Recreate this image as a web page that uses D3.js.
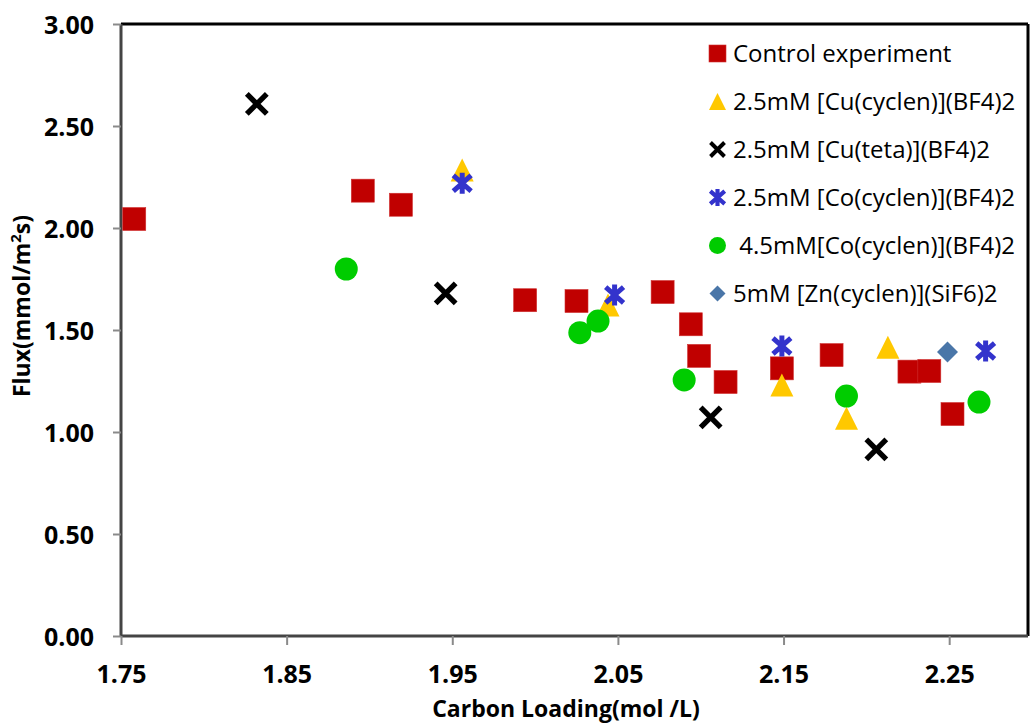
<!DOCTYPE html>
<html>
<head>
<meta charset="utf-8">
<script src="https://cdn.jsdelivr.net/npm/d3@7"></script>
<style>
  html, body { margin: 0; padding: 0; background: #fff; }
  svg { display: block; font-family: "Open Sans", "DejaVu Sans", sans-serif; }
  .legend text { white-space: pre; }
</style>
</head>
<body>
<svg id="chart" width="1031" height="723"></svg>
<script>
// series
const controlX = [1.758, 1.896, 1.919, 1.994, 2.025, 2.077, 2.094, 2.099, 2.115, 2.149, 2.179, 2.226, 2.238, 2.252]
const controlY = [2.044, 2.183, 2.114, 1.646, 1.642, 1.686, 1.528, 1.373, 1.245, 1.312, 1.377, 1.296, 1.299, 1.088]

const cuCyclenX = [1.956, 2.044, 2.149, 2.188, 2.213]
const cuCyclenY = [2.284, 1.623, 1.230, 1.067, 1.415]

const cuTetaX = [1.832, 1.946, 2.106, 2.206]
const cuTetaY = [2.608, 1.680, 1.072, 0.915]

const coCyclen25X = [1.956, 2.048, 2.149, 2.272]
const coCyclen25Y = [2.219, 1.672, 1.422, 1.397]

const coCyclen45X = [1.886, 2.027, 2.038, 2.090, 2.188, 2.268]
const coCyclen45Y = [1.799, 1.487, 1.544, 1.255, 1.176, 1.147]

const znCyclenX = [2.249]
const znCyclenY = [1.392]

const seriesNames = [
    "Control experiment",
    "2.5mM [Cu(cyclen)](BF4)2",
    "2.5mM [Cu(teta)](BF4)2",
    "2.5mM [Co(cyclen)](BF4)2",
    " 4.5mM[Co(cyclen)](BF4)2",
    "5mM [Zn(cyclen)](SiF6)2"
]

const xTicks = [1.75, 1.85, 1.95, 2.05, 2.15, 2.25]
const yTicks = [0, 0.5, 1.0, 1.5, 2.0, 2.5, 3.0]

const svg = d3.select('#chart')

// plot area
const plotLeft = 121, plotTop = 24, plotBottom = 636, plotRight = 1028

const x = d3.scaleLinear().domain([1.75, 2.30]).range([plotLeft, 1032])
const y = d3.scaleLinear().domain([0, 3]).range([plotBottom, plotTop])

// frame: top/right black, left/bottom gray axes
svg.append('line').attr('x1', plotLeft).attr('x2', plotRight).attr('y1', plotTop).attr('y2', plotTop)
    .attr('stroke', '#000').attr('stroke-width', 3)
svg.append('line').attr('x1', plotRight).attr('x2', plotRight).attr('y1', plotTop).attr('y2', plotBottom)
    .attr('stroke', '#000').attr('stroke-width', 3)

const yAxis = d3.axisLeft(y).tickValues(yTicks).tickFormat(d3.format('.2f')).tickSize(8).tickPadding(20)
const gy = svg.append('g').attr('transform', `translate(${plotLeft},0)`).call(yAxis)

const xAxis = d3.axisBottom(x).tickValues(xTicks).tickFormat(d3.format('.2f')).tickSize(9).tickPadding(20)
const gx = svg.append('g').attr('transform', `translate(0,${plotBottom})`).call(xAxis)

;[gx, gy].forEach(g => {
    g.select('.domain').attr('stroke', '#444').attr('stroke-width', 3)
    g.selectAll('.tick line').attr('stroke', '#8a8a8a').attr('stroke-width', 2)
    g.selectAll('.tick text')
        .attr('font-family', '"Open Sans", sans-serif')
        .attr('font-weight', 'bold')
        .attr('font-size', 25)
        .attr('fill', '#000')
})
gy.select('.domain').attr('d', `M0,${plotTop}V${plotBottom}`)
gx.select('.domain').attr('d', `M${plotLeft},0H${plotRight}`)
gy.selectAll('.tick text').attr('dy', '0.36em').attr('x', -27)
gx.selectAll('.tick text').attr('dy', '0').attr('y', 47)

// axis titles
svg.append('text')
    .attr('x', 566).attr('y', 717)
    .attr('text-anchor', 'middle')
    .attr('font-weight', 'bold').attr('font-size', 23)
    .text('Carbon Loading(mol /L)')

const yt = svg.append('text')
    .attr('transform', 'translate(30,306) rotate(-90)')
    .attr('text-anchor', 'middle')
    .attr('font-weight', 'bold').attr('font-size', 23)
yt.append('tspan').text('Flux(mmol/m')
yt.append('tspan').attr('font-size', 15).attr('dy', -9).text('2')
yt.append('tspan').attr('dy', 9).text('s)')

// marker drawers
const red = '#C00000', yellow = '#FFC800', blue = '#3333CC', green = '#00CC00', steel = '#4A76A8'

function square(g, cx, cy, s) {
    g.append('rect').attr('x', cx - s / 2).attr('y', cy - s / 2).attr('width', s).attr('height', s)
        .attr('fill', red).attr('stroke', '#d03030').attr('stroke-width', 0.6)
}
function triangle(g, cx, cy, s) {
    const h = s
    g.append('path').attr('d', `M${cx},${cy - h / 2}L${cx + s / 2},${cy + h / 2}L${cx - s / 2},${cy + h / 2}Z`)
        .attr('fill', yellow)
}
function cross(g, cx, cy, s) {
    const r = s / 2 - 1.5
    g.append('path').attr('d', `M${cx - r},${cy - r}L${cx + r},${cy + r}M${cx - r},${cy + r}L${cx + r},${cy - r}`)
        .attr('stroke', '#000').attr('stroke-width', s / 4.3).attr('fill', 'none')
}
function star(g, cx, cy, s) {
    const r = s / 2 - 1, dx = r * 0.85
    g.append('path').attr('d', `M${cx},${cy - r}V${cy + r}M${cx - dx},${cy - r * 0.75}L${cx + dx},${cy + r * 0.75}M${cx - dx},${cy + r * 0.75}L${cx + dx},${cy - r * 0.75}`)
        .attr('stroke', blue).attr('stroke-width', s / 4.6).attr('fill', 'none')
}
function circle(g, cx, cy, s) {
    g.append('circle').attr('cx', cx).attr('cy', cy).attr('r', s / 2).attr('fill', green)
}
function diamond(g, cx, cy, s) {
    const r = s / 2
    g.append('path').attr('d', `M${cx},${cy - r}L${cx + r},${cy}L${cx},${cy + r}L${cx - r},${cy}Z`)
        .attr('fill', steel)
}

const series = [
    { xs: controlX, ys: controlY, draw: square, size: 23 },
    { xs: cuCyclenX, ys: cuCyclenY, draw: triangle, size: 23 },
    { xs: cuTetaX, ys: cuTetaY, draw: cross, size: 23 },
    { xs: coCyclen25X, ys: coCyclen25Y, draw: star, size: 23 },
    { xs: coCyclen45X, ys: coCyclen45Y, draw: circle, size: 23 },
    { xs: znCyclenX, ys: znCyclenY, draw: diamond, size: 21 }
]

const plot = svg.append('g')
series.forEach(s => {
    s.xs.forEach((xv, i) => s.draw(plot, x(xv), y(s.ys[i]), s.size))
})

// legend
const legend = svg.append('g').attr('class', 'legend')
const legendSizes = [17, 17, 17, 19, 17, 16]
seriesNames.forEach((name, i) => {
    const cy = 53.5 + i * 48
    series[i].draw(legend, 717.5, cy, legendSizes[i])
    legend.append('text')
        .attr('x', 733).attr('y', cy).attr('dy', '0.36em')
        .attr('font-size', 24).attr('fill', '#000')
        .text(name)
})
</script>
</body>
</html>
